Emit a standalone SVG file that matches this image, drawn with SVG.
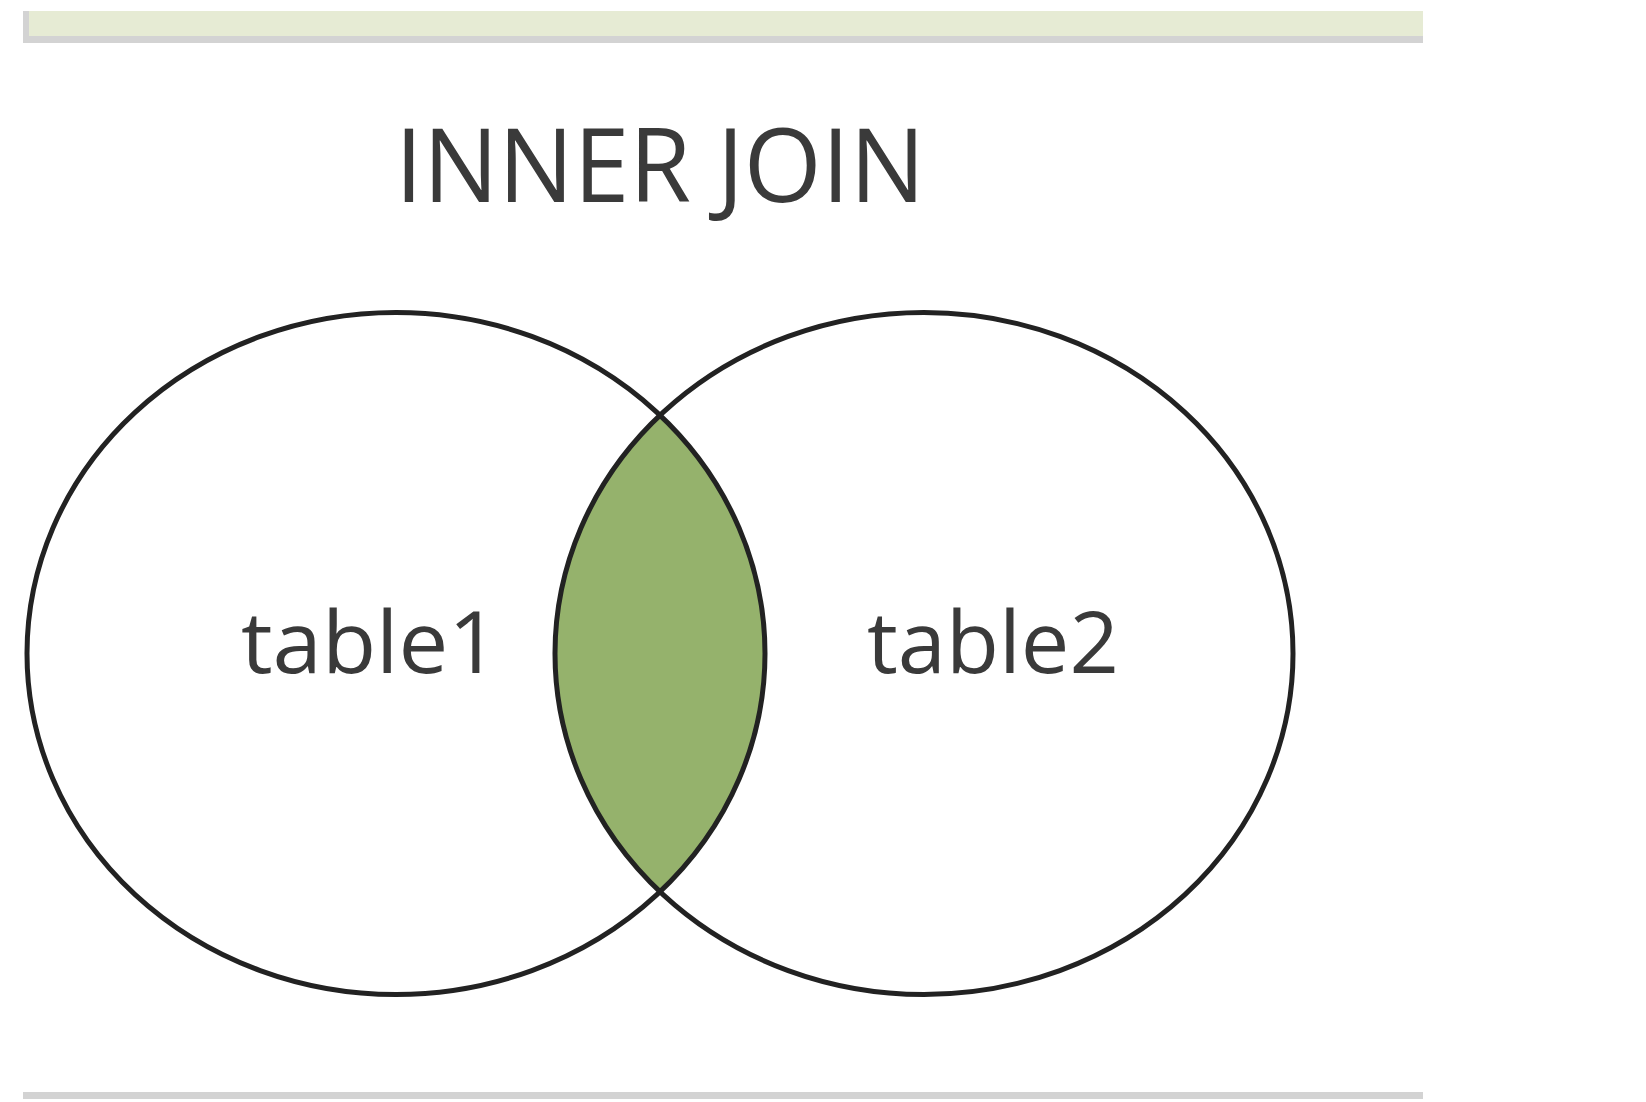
<svg xmlns="http://www.w3.org/2000/svg" width="1646" height="1102" viewBox="0 0 1646 1102">
  <style>
    .ring { fill: none; stroke: #222222; stroke-width: 5; }
    .lbl { font-family: "Open Sans", "Noto Sans", "Liberation Sans", sans-serif; fill: #3a3a3a; }
  </style>
  <rect x="0" y="0" width="1646" height="1102" fill="#ffffff"/>
  <g id="top-bar">
    <rect x="23" y="11" width="1400" height="32" fill="#d3d3d3"/>
    <rect x="29" y="11" width="1394" height="25" fill="#e6ebd4"/>
  </g>
  <g id="title">
    <text class="lbl" x="395" y="202" font-size="103" textLength="530" lengthAdjust="spacingAndGlyphs">INNER JOIN</text>
  </g>
  <g id="intersection">
    <path d="M660,415.5 A369,341 0 0,1 660,891.5 A369,341 0 0,1 660,415.5 Z" fill="#95b26c"/>
  </g>
  <g id="table1">
    <ellipse class="ring" cx="396" cy="653.5" rx="369" ry="341"/>
    <text class="lbl" x="241" y="673" font-size="86" textLength="258" lengthAdjust="spacingAndGlyphs">table1</text>
  </g>
  <g id="table2">
    <ellipse class="ring" cx="924" cy="653.5" rx="369" ry="341"/>
    <text class="lbl" x="867" y="673" font-size="86" textLength="252" lengthAdjust="spacingAndGlyphs">table2</text>
  </g>
  <g id="connectors"/>
  <g id="bottom-rule">
    <rect x="23" y="1092" width="1400" height="7" fill="#d3d3d3"/>
  </g>
</svg>
